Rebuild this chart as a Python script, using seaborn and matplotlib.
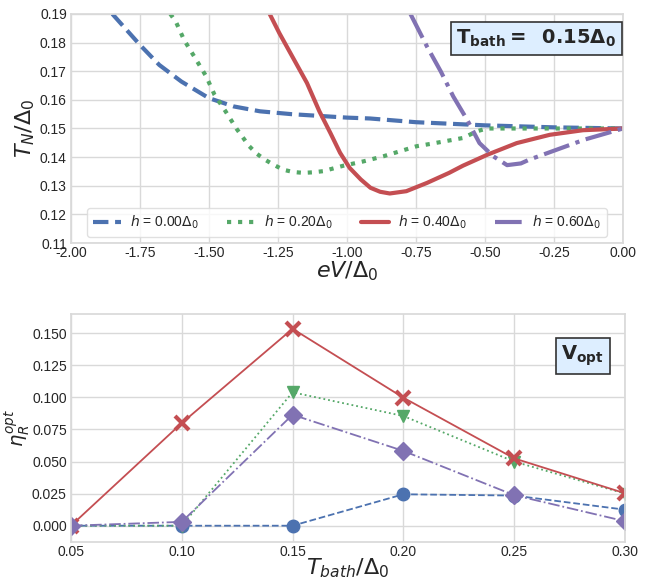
import numpy as np
import pandas as pd
import matplotlib
matplotlib.use("Agg")
import matplotlib.pyplot as plt
import seaborn as sns

# ---- top panel: T_N vs eV at T_bath = 0.15 Delta_0 ----
ev_h000 = [-1.85, -1.75, -1.68, -1.60, -1.50, -1.41, -1.315, -1.20, -1.0, -0.917, -0.75, -0.50, -0.25, 0.0]
tn_h000 = [0.190, 0.1792, 0.1722, 0.1664, 0.1606, 0.1577, 0.1560, 0.1550, 0.1538, 0.1535, 0.1522, 0.1511, 0.1504, 0.150]

ev_h020 = [-1.64, -1.62, -1.59, -1.55, -1.51, -1.48, -1.44, -1.40, -1.354, -1.327, -1.297, -1.267, -1.231,
           -1.195, -1.158, -1.122, -1.086, -1.013, -0.941, -0.868, -0.748, -0.699, -0.579, -0.53, -0.494,
           -0.25, 0.0]
tn_h020 = [0.190, 0.1873, 0.1809, 0.1746, 0.1682, 0.1618, 0.1560, 0.1499, 0.1438, 0.1412, 0.1391, 0.1374, 0.1356,
           0.1348, 0.1345, 0.1347, 0.1351, 0.1370, 0.1385, 0.1403, 0.1438, 0.1446, 0.1467, 0.1490, 0.1500,
           0.1500, 0.150]

ev_h040 = [-1.28, -1.245, -1.195, -1.145, -1.10, -1.06, -1.025, -0.99, -0.95, -0.915, -0.88, -0.845, -0.785,
           -0.71, -0.63, -0.58, -0.49, -0.385, -0.265, -0.145, 0.0]
tn_h040 = [0.190, 0.1833, 0.1746, 0.1659, 0.1560, 0.1484, 0.1415, 0.1362, 0.1322, 0.1293, 0.1279, 0.1273, 0.1281,
           0.1310, 0.1345, 0.1370, 0.1409, 0.1449, 0.1478, 0.1494, 0.150]

ev_h060 = [-0.77, -0.71, -0.66, -0.615, -0.565, -0.52, -0.47, -0.42, -0.37, -0.34, -0.24, -0.14, 0.0]
tn_h060 = [0.190, 0.1786, 0.1699, 0.1612, 0.1531, 0.1449, 0.1403, 0.1372, 0.1378, 0.1391, 0.1426, 0.1461, 0.150]

h_labels = [r"$h$ = 0.00$\Delta_0$", r"$h$ = 0.20$\Delta_0$", r"$h$ = 0.40$\Delta_0$", r"$h$ = 0.60$\Delta_0$"]

# ---- bottom panel: optimal efficiency vs bath temperature ----
t_bath = [0.05, 0.10, 0.15, 0.20, 0.25, 0.30]
eta_h000 = [0.000, 0.000, 0.000, 0.0245, 0.0235, 0.0125]
eta_h020 = [0.000, 0.000, 0.104, 0.0855, 0.050, 0.025]
eta_h040 = [0.000, 0.080, 0.1535, 0.0998, 0.0525, 0.0253]
eta_h060 = [0.000, 0.003, 0.0865, 0.0583, 0.0238, 0.0035]

sns.set_theme(style="whitegrid", palette="deep")
plt.rcParams["font.family"] = ["Liberation Sans", "DejaVu Sans"]
plt.rcParams["axes.edgecolor"] = "0.85"
plt.rcParams["grid.color"] = "0.85"

colors = sns.color_palette("deep")
c_blue, c_green, c_red, c_purple = colors[0], colors[2], colors[3], colors[4]

fig = plt.figure(figsize=(6.51, 5.85), dpi=100)
ax1 = fig.add_axes([0.109, 0.5846, 0.848, 0.3915])
ax2 = fig.add_axes([0.109, 0.0735, 0.851, 0.3897])

top_series = [
    (ev_h000, tn_h000, c_blue, "--"),
    (ev_h020, tn_h020, c_green, ":"),
    (ev_h040, tn_h040, c_red, "-"),
    (ev_h060, tn_h060, c_purple, "-."),
]
for (xs, ys, col, ls), lab in zip(top_series, h_labels):
    sns.lineplot(x=xs, y=ys, ax=ax1, color=col, linestyle=ls, linewidth=3,
                 sort=False, label=lab)

ax1.set_xlim(-2.0, 0.0)
ax1.set_ylim(0.11, 0.19)
ax1.set_xticks(np.arange(-2.0, 0.01, 0.25))
ax1.set_yticks(np.arange(0.11, 0.1901, 0.01))
ax1.xaxis.set_major_formatter(matplotlib.ticker.FormatStrFormatter("%.2f"))
ax1.yaxis.set_major_formatter(matplotlib.ticker.FormatStrFormatter("%.2f"))
ax1.tick_params(labelsize=10, length=0, pad=3)
ax1.tick_params(axis="x", pad=2)
ax1.set_xlabel(r"$eV/\Delta_0$", fontsize=16)
ax1.set_ylabel(r"$T_N/\Delta_0$", fontsize=16)
ax1.xaxis.set_label_coords(0.5, -0.072)
ax1.yaxis.set_label_coords(-0.062, 0.5)
leg = ax1.legend(loc="lower center", ncol=4, fontsize=10, frameon=True,
                 borderaxespad=0.45, columnspacing=2.0, handletextpad=0.7,
                 bbox_to_anchor=(0.5, 0.0))
leg.get_frame().set_edgecolor("0.85")
ax1.text(0.988, 0.94, r"$\mathbf{T_{bath} =\ \ 0.15\Delta_0}$", transform=ax1.transAxes,
         ha="right", va="top", fontsize=14,
         bbox=dict(boxstyle="square,pad=0.3", fc="#ddeeff", ec="0.2", lw=1.2))

bottom_series = [
    (eta_h000, c_blue, "--", "o", 9, 1),
    (eta_h020, c_green, ":", "v", 9, 1),
    (eta_h040, c_red, "-", "x", 10, 3),
    (eta_h060, c_purple, "-.", "D", 9, 1),
]
for ys, col, ls, mk, ms, mew in bottom_series:
    sns.lineplot(x=t_bath, y=ys, ax=ax2, color=col, linestyle=ls, linewidth=1.3,
                 marker=mk, markersize=ms, markeredgewidth=mew, markeredgecolor=col,
                 sort=False)

ax2.set_xlim(0.05, 0.30)
ax2.set_ylim(-0.0127, 0.165)
ax2.set_xticks(t_bath)
ax2.set_yticks(np.arange(0.0, 0.1501, 0.025))
ax2.xaxis.set_major_formatter(matplotlib.ticker.FormatStrFormatter("%.2f"))
ax2.yaxis.set_major_formatter(matplotlib.ticker.FormatStrFormatter("%.3f"))
ax2.tick_params(labelsize=10, length=0, pad=3)
ax2.tick_params(axis="x", pad=2)
ax2.set_xlabel(r"$T_{bath}/\Delta_0$", fontsize=16)
ax2.set_ylabel(r"$\eta_R^{opt}$", fontsize=14)
ax2.xaxis.set_label_coords(0.5, -0.062)
ax2.yaxis.set_label_coords(-0.07, 0.5)
ax2.text(0.962, 0.87, r"$\mathbf{V_{opt}}$", transform=ax2.transAxes,
         ha="right", va="top", fontsize=14,
         bbox=dict(boxstyle="square,pad=0.3", fc="#ddeeff", ec="0.2", lw=1.2))

fig.savefig("out.png", dpi=100)
